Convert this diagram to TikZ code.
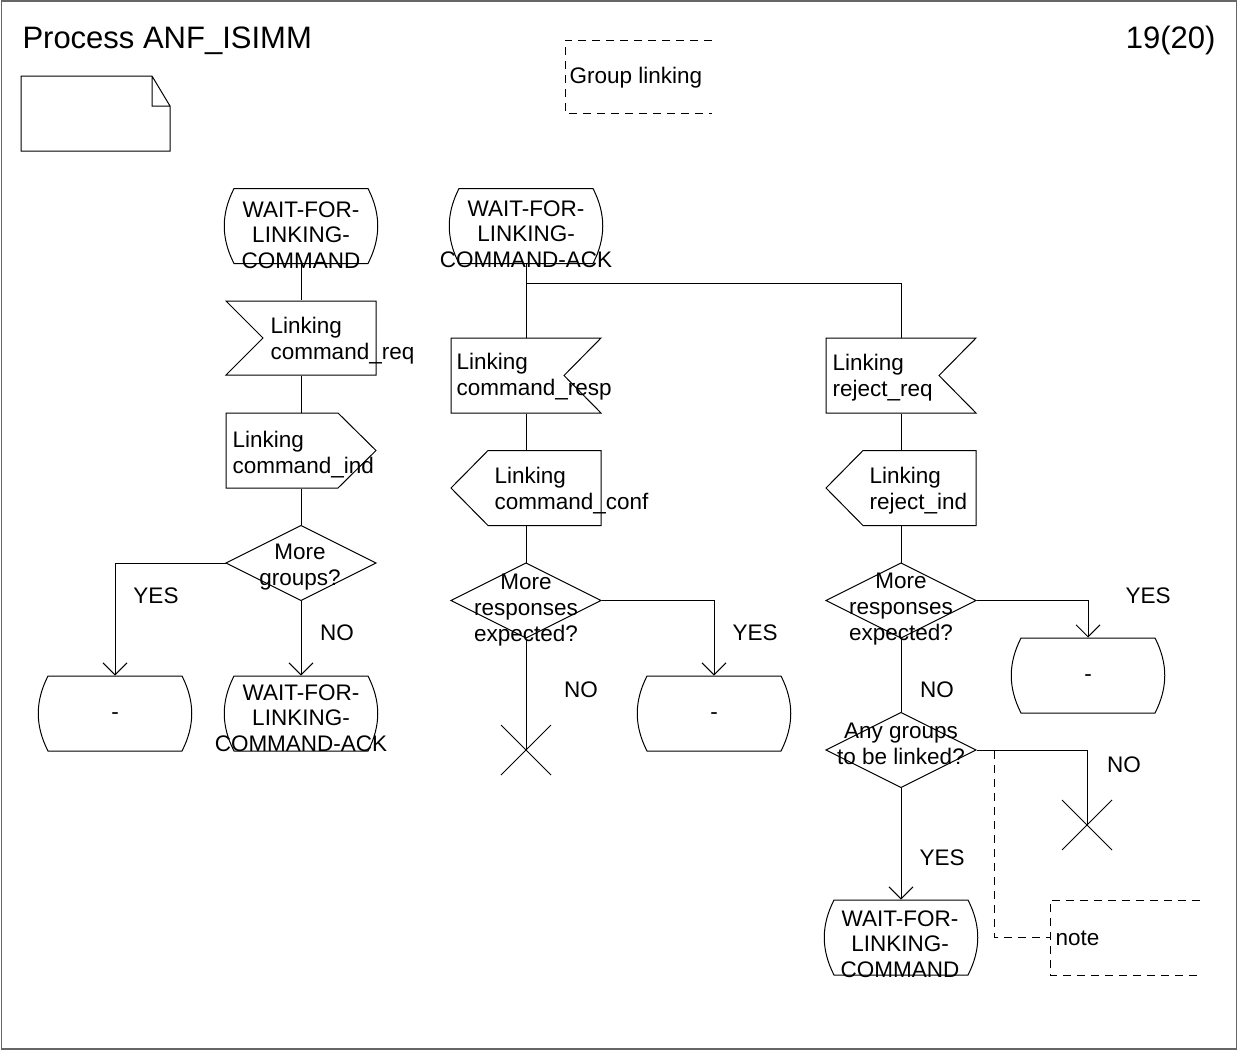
\documentclass[tikz,border=0pt]{standalone}
\usepackage{fontspec}
\setmainfont{Liberation Sans}
\usetikzlibrary{arrows.meta}
\begin{document}
\begin{tikzpicture}[x=1pt,y=-1pt,line width=1pt,
  anchorbox/.style={rectangle,draw=none,inner sep=0pt,minimum width=150pt,minimum height=75pt},
  txt/.style={inner sep=0pt,font=\fontsize{22.5}{26}\selectfont},
  stxt/.style={inner sep=0pt,align=center,font=\fontsize{22.5}{25.5}\selectfont},
  ltxt/.style={inner sep=0pt,align=left,anchor=north west,font=\fontsize{22.5}{26}\selectfont},
  ctxt/.style={inner sep=0pt,align=center,anchor=north,font=\fontsize{22.5}{26}\selectfont},
  arr/.style={-{Straight Barb[length=12pt,width=24pt]}},
  dsh/.style={dash pattern=on 8pt off 6pt}]
\useasboundingbox (0,0) rectangle (1238,1050);
\draw[line width=1.2pt,gray!80!black] (1.5,1) rectangle (1236.5,1049);

% header
\node[txt,anchor=base west,font=\fontsize{31}{34}\selectfont] (title) at (22,48) {Process ANF\_ISIMM};
\node[txt,anchor=base east,font=\fontsize{31}{34}\selectfont] (page) at (1216,48) {19(20)};
\coordinate (nb) at (95.5,113.5);
\draw[shift={(nb)}] (-74.5,-37.5) -- (56.5,-37.5) -- (74.5,-7.5) -- (74.5,37.5) -- (-74.5,37.5) -- cycle
  (56.5,-37.5) -- (56.5,-7.5) -- (74.5,-7.5);
\draw[dsh] (712,40) -- (565,40) -- (565,113) -- (712,113);
\node[txt,anchor=base west] (grp) at (569,83) {Group linking};

% anchor nodes
\node[anchorbox,minimum width=152pt] (s1) at (301,226) {};
\node[anchorbox] (i1) at (301,338) {};
\node[anchorbox] (o1) at (301,450.5) {};
\node[anchorbox] (d1) at (301,563) {};
\node[anchorbox,minimum width=152pt] (s3) at (115,713.5) {};
\node[anchorbox,minimum width=152pt] (s4) at (301,713.5) {};
\node[anchorbox,minimum width=152pt] (s2) at (526,226) {};
\coordinate (split) at (526,283);
\node[anchorbox] (i2) at (526,375.5) {};
\node[anchorbox] (o2) at (526,488) {};
\node[anchorbox] (d2) at (526,600.5) {};
\node[anchorbox,minimum width=152pt] (s5) at (714,713.5) {};
\coordinate (x1) at (526,750);
\node[anchorbox] (i3) at (901,375.5) {};
\node[anchorbox] (o3) at (901,488) {};
\node[anchorbox] (d3) at (901,600.5) {};
\node[anchorbox,minimum width=152pt] (s6) at (1088,675.5) {};
\node[anchorbox] (d4) at (901,750) {};
\coordinate (x2) at (1087,825);
\node[anchorbox,minimum width=152pt] (s7) at (901,937.5) {};

% shapes
\foreach \s in {s1,s2,s3,s4,s5,s6,s7}{
  \draw[shift={(\s.center)}] (-67,-37.5) -- (67,-37.5) .. controls (80,-12) and (80,12) .. (67,37.5)
     -- (-67,37.5) .. controls (-80,12) and (-80,-12) .. cycle;}
\draw[shift={(i1.center)}] (-75,-37) -- (75,-37) -- (75,37) -- (-75,37) -- (-38,0) -- cycle;
\foreach \s in {i2,i3}{
  \draw[shift={(\s.center)}] (-75,-37.5) -- (75,-37.5) -- (38,0) -- (75,37.5) -- (-75,37.5) -- cycle;}
\draw[shift={(o1.center)}] (-75,-37.5) -- (37,-37.5) -- (75,0) -- (37,37.5) -- (-75,37.5) -- cycle;
\foreach \s in {o2,o3}{
  \draw[shift={(\s.center)}] (-75,0) -- (-38,-37.5) -- (75,-37.5) -- (75,37.5) -- (-38,37.5) -- cycle;}
\foreach \s in {d1,d2,d3,d4}{
  \draw[shift={(\s.center)}] (-75,0) -- (0,-37.5) -- (75,0) -- (0,37.5) -- cycle;}
\foreach \s in {x1,x2}{
  \draw[shift={(\s)}] (-25,-25) -- (25,25) (-25,25) -- (25,-25);}

% texts
\node[stxt,anchor=north] (t1) at (301,201) {WAIT-FOR-\\LINKING-\\COMMAND};
\node[stxt,anchor=north] (t2) at (526,200) {WAIT-FOR-\\LINKING-\\COMMAND-ACK};
\node[ltxt] (ti1) at (270,317) {Linking\\command\_req};
\node[ltxt] (to1) at (232,431) {Linking\\command\_ind};
\node[ctxt] (td1) at (300,544) {More\\groups?};
\node[txt,anchor=base] (t3) at (115,719) {-};
\node[stxt,anchor=north] (t4) at (301,684) {WAIT-FOR-\\LINKING-\\COMMAND-ACK};
\node[ltxt] (ti2) at (456,353) {Linking\\command\_resp};
\node[ltxt] (to2) at (494,467) {Linking\\command\_conf};
\node[ctxt] (td2) at (526,574) {More\\responses\\expected?};
\node[txt,anchor=base] (t5) at (714,719) {-};
\node[ltxt] (ti3) at (832,354) {Linking\\reject\_req};
\node[ltxt] (to3) at (869,467) {Linking\\reject\_ind};
\node[ctxt] (td3) at (901,573) {More\\responses\\expected?};
\node[txt,anchor=base] (t6) at (1088,681) {-};
\node[ctxt] (td4) at (901,723) {Any groups\\to be linked?};
\node[stxt,anchor=north] (t7) at (900,910) {WAIT-FOR-\\LINKING-\\COMMAND};

% labels
\node[txt,anchor=base] (l1) at (156,603) {YES};
\node[txt,anchor=base] (l2) at (337,640) {NO};
\node[txt,anchor=base] (l3) at (755,640) {YES};
\node[txt,anchor=base] (l4) at (581,697) {NO};
\node[txt,anchor=base] (l5) at (1148,603) {YES};
\node[txt,anchor=base] (l6) at (937,697) {NO};
\node[txt,anchor=base] (l7) at (1124,772) {NO};
\node[txt,anchor=base] (l8) at (942,865) {YES};

% connectors
\draw (s1.south) -- (i1.north);
\draw (i1.south) -- (o1.north);
\draw (o1.south) -- (d1.north);
\draw[arr] (d1.west) -| (s3.north);
\draw[arr] (d1.south) -- (s4.north);
\draw (s2.south) -- (i2.north);
\draw (split) -| (i3.north);
\draw (i2.south) -- (o2.north);
\draw (o2.south) -- (d2.north);
\draw[arr] (d2.east) -| (s5.north);
\draw (d2.south) -- (x1);
\draw (i3.south) -- (o3.north);
\draw (o3.south) -- (d3.north);
\draw[arr] (d3.east) -| (s6.north);
\draw (d3.south) -- (d4.north);
\draw (d4.east) -| (x2);
\draw[arr] (d4.south) -- (s7.north);

% comment
\coordinate (cm) at (994,751);
\node[txt,anchor=base west] (nt) at (1055,945) {note};
\draw[dsh] (cm) |- (1050,937);
\draw[dsh] (1200,900) -- (1050,900) -- (1050,975) -- (1197,975);
\end{tikzpicture}
\end{document}
